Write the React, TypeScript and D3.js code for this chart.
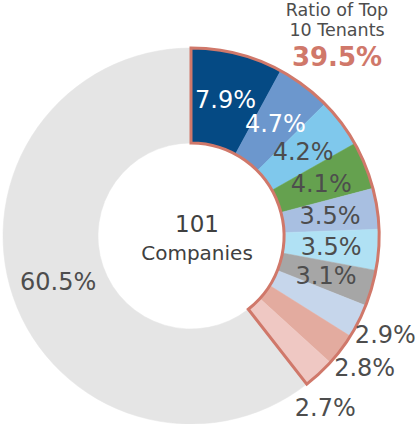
import React from "react";
import { useEffect, useRef } from "react";
import * as d3 from "d3";

// Share of total rent, top 10 tenants (clockwise from 12 o'clock), then the rest
const tenantShares = [7.9, 4.7, 4.2, 4.1, 3.5, 3.5, 3.1, 2.9, 2.8, 2.7];
const otherShare = 60.5;
const sliceColors = [
  "#054a84",
  "#6c97cd",
  "#7fc8ec",
  "#65a14f",
  "#a8bfe1",
  "#b0e1f4",
  "#a6a6a6",
  "#c6d6eb",
  "#e3ab9f",
  "#efc8c3",
];
const otherColor = "#e5e5e5";
const whiteLabels = [0, 1];
const outsideLabels = [7, 8, 9];
const titleLines = ["Ratio of Top", "10 Tenants"];
const topRatio = "39.5%";
const companyCount = "101";
const companyLabel = "Companies";

const App = () => {
  const ref = useRef(null);

  useEffect(() => {
    const width = 416;
    const height = 424;
    const cx = 191;
    const cy = 236;
    const outerR = 188;
    const innerR = 93;
    const font = "Verdana, 'DejaVu Sans', sans-serif";
    const accent = "#d0786a";
    const textGray = "#4d4d4d";

    const svg = d3
      .select(ref.current)
      .attr("width", width)
      .attr("height", height)
      .attr("viewBox", [0, 0, width, height]);

    svg.selectAll("*").remove();

    const data = tenantShares
      .map((v, i) => ({ value: v, color: sliceColors[i], idx: i }))
      .concat([{ value: otherShare, color: otherColor, idx: -1 }]);

    const pie = d3
      .pie()
      .sort(null)
      .value((d) => d.value);
    const arcs = pie(data);

    const arc = d3.arc().innerRadius(innerR).outerRadius(outerR);
    const labelArc = d3
      .arc()
      .innerRadius((innerR + outerR) / 2)
      .outerRadius((innerR + outerR) / 2);
    const outerLabelArc = d3.arc().innerRadius(218).outerRadius(218);

    const g = svg.append("g").attr("transform", `translate(${cx},${cy})`);

    // slices
    g.selectAll("path.slice")
      .data(arcs)
      .join("path")
      .attr("class", "slice")
      .attr("d", arc)
      .attr("fill", (d) => d.data.color)
      .attr("stroke", (d) => d.data.color)
      .attr("stroke-width", 0.5);

    // outline around the top 10 group
    const topEnd = arcs[tenantShares.length - 1].endAngle;
    g.append("path")
      .attr("d", arc({ startAngle: 0, endAngle: topEnd }))
      .attr("fill", "none")
      .attr("stroke", accent)
      .attr("stroke-width", 3)
      .attr("stroke-linejoin", "miter");

    // label position: inside the ring, or just outside it for the small slices
    // (the last one sits under the end of the group, by its closing edge)
    const labelPos = (d) => {
      if (!outsideLabels.includes(d.data.idx)) return labelArc.centroid(d);
      if (d.data.idx === tenantShares.length - 1)
        return outerLabelArc.centroid({ startAngle: d.endAngle, endAngle: d.endAngle });
      return outerLabelArc.centroid(d);
    };

    // slice labels
    g.selectAll("text.pct")
      .data(arcs)
      .join("text")
      .attr("class", "pct")
      .attr("transform", (d) => {
        const p = labelPos(d);
        return `translate(${p[0]},${p[1]})`;
      })
      .attr("text-anchor", "middle")
      .attr("dy", "0.36em")
      .attr("font-family", font)
      .attr("font-size", 24)
      .attr("fill", (d) => (whiteLabels.includes(d.data.idx) ? "#ffffff" : textGray))
      .text((d) => `${d.data.value.toFixed(1)}%`);

    // centre text
    g.append("text")
      .attr("x", 6)
      .attr("y", -4)
      .attr("text-anchor", "middle")
      .attr("font-family", font)
      .attr("font-size", 23)
      .attr("fill", "#404040")
      .text(companyCount);
    g.append("text")
      .attr("x", 6)
      .attr("y", 24)
      .attr("text-anchor", "middle")
      .attr("font-family", font)
      .attr("font-size", 20)
      .attr("fill", "#404040")
      .text(companyLabel);

    // title, top right
    const title = svg.append("g").attr("transform", "translate(337,0)");
    title
      .selectAll("text.title")
      .data(titleLines)
      .join("text")
      .attr("class", "title")
      .attr("y", (d, i) => 16 + i * 20)
      .attr("text-anchor", "middle")
      .attr("font-family", font)
      .attr("font-size", 17.5)
      .attr("fill", textGray)
      .text((d) => d);
    title
      .append("text")
      .attr("y", 66)
      .attr("text-anchor", "middle")
      .attr("font-family", font)
      .attr("font-size", 26)
      .attr("font-weight", "bold")
      .attr("fill", accent)
      .text(topRatio);
  }, []);

  return (
    <svg
      ref={ref}
      style={{ position: "absolute", left: 0, top: 0, display: "block" }}
    ></svg>
  );
};

export default App;
